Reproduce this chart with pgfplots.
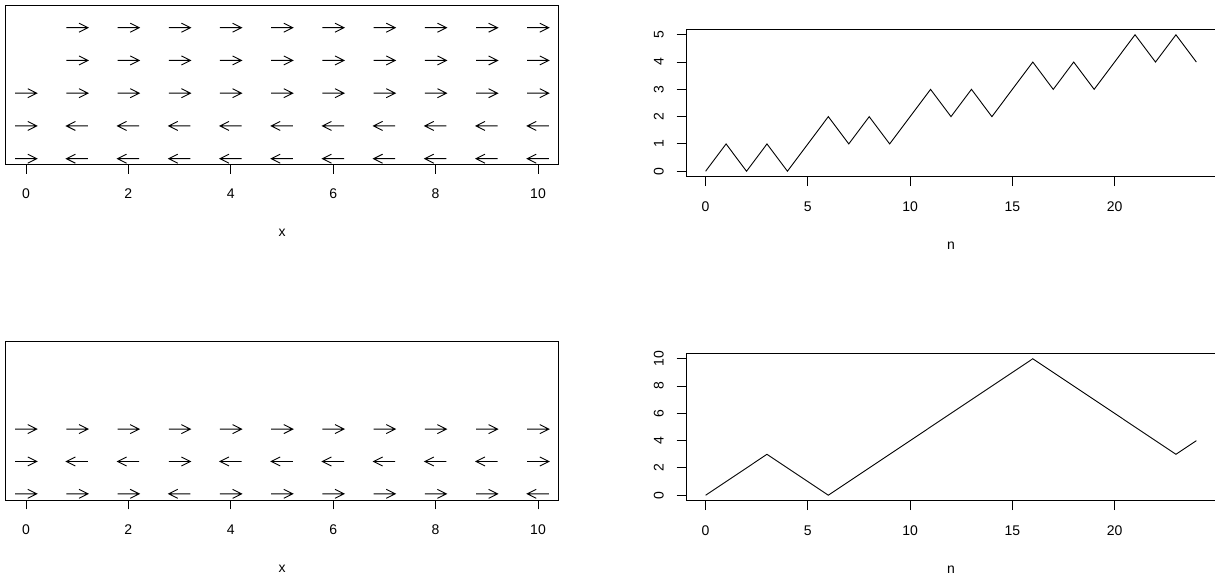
\documentclass[border=0pt]{standalone}
\usepackage{pgfplots}
\pgfplotsset{compat=1.18}
\usepackage{fontspec}
\setmainfont{Liberation Sans}

% arrow glyphs as plot marks (1pt = 1px of the reference)
\pgfdeclareplotmark{rarr}{%
  \pgfpathmoveto{\pgfqpoint{-10.8pt}{0pt}}\pgfpathlineto{\pgfqpoint{10.8pt}{0pt}}%
  \pgfpathmoveto{\pgfqpoint{1.8pt}{4.5pt}}\pgfpathlineto{\pgfqpoint{10.8pt}{0pt}}%
  \pgfpathlineto{\pgfqpoint{1.8pt}{-4.5pt}}%
  \pgfusepathqstroke}
\pgfdeclareplotmark{larr}{%
  \pgfpathmoveto{\pgfqpoint{10.8pt}{0pt}}\pgfpathlineto{\pgfqpoint{-10.8pt}{0pt}}%
  \pgfpathmoveto{\pgfqpoint{-1.8pt}{4.5pt}}\pgfpathlineto{\pgfqpoint{-10.8pt}{0pt}}%
  \pgfpathlineto{\pgfqpoint{-1.8pt}{-4.5pt}}%
  \pgfusepathqstroke}

\pgfplotsset{
  rbase/.style={
    scale only axis, anchor=south west,
    axis line style={line width=0.9pt, black},
    tick style={line width=0.9pt, black},
    tick align=outside, major tick length=9.5pt,
    xtick pos=bottom, ytick pos=left,
    tick label style={font=\fontsize{14}{17}\selectfont},
    /pgf/number format/assume math mode=true,
    xticklabel style={anchor=base}, xticklabel shift=25pt,
    yticklabel style={rotate=90, anchor=base}, yticklabel shift=13pt,
    every axis x label/.style={at={(rel axis cs:0.5,0)}, anchor=base,
      yshift=-72.5pt, font=\fontsize{14}{17}\selectfont},
  },
  arrows/.style={rbase, width=553pt, xmin=-0.4, xmax=10.4,
    xtick={0,2,...,10}, ytick=\empty, xlabel={x}, clip=false},
  walk/.style={rbase, width=530pt, height=147.4pt, xmin=-0.96, xmax=24.96,
    xtick={0,5,...,20}, xlabel={n}},
}

\begin{document}
\begin{tikzpicture}[x=1pt,y=1pt]
\useasboundingbox (0,0) rectangle (1215,580);

% top left
\begin{axis}[arrows, at={(5.5pt,415.7pt)}, height=159pt, ymin=0.829, ymax=5.684]
\addplot[only marks, mark=rarr, mark options={line width=0.9pt}] coordinates {
  (1,5) (2,5) (3,5) (4,5) (5,5) (6,5) (7,5) (8,5) (9,5) (10,5)
  (1,4) (2,4) (3,4) (4,4) (5,4) (6,4) (7,4) (8,4) (9,4) (10,4)
  (0,3) (1,3) (2,3) (3,3) (4,3) (5,3) (6,3) (7,3) (8,3) (9,3) (10,3)
  (0,2) (0,1)};
\addplot[only marks, mark=larr, mark options={line width=0.9pt}] coordinates {
  (1,2) (2,2) (3,2) (4,2) (5,2) (6,2) (7,2) (8,2) (9,2) (10,2)
  (1,1) (2,1) (3,1) (4,1) (5,1) (6,1) (7,1) (8,1) (9,1) (10,1)};
\end{axis}

% bottom left
\begin{axis}[arrows, at={(5.5pt,80pt)}, height=158.3pt, ymin=0.81, ymax=5.70]
\addplot[only marks, mark=rarr, mark options={line width=0.9pt}] coordinates {
  (0,3) (1,3) (2,3) (3,3) (4,3) (5,3) (6,3) (7,3) (8,3) (9,3) (10,3)
  (0,2) (3,2) (10,2)
  (0,1) (1,1) (2,1) (4,1) (5,1) (6,1) (7,1) (8,1) (9,1)};
\addplot[only marks, mark=larr, mark options={line width=0.9pt}] coordinates {
  (1,2) (2,2) (4,2) (5,2) (6,2) (7,2) (8,2) (9,2)
  (3,1) (10,1)};
\end{axis}

% top right
\begin{axis}[walk, at={(686pt,403.3pt)}, ymin=-0.2, ymax=5.2, ytick={0,...,5}]
\addplot[black, line width=0.9pt] coordinates {
  (0,0) (1,1) (2,0) (3,1) (4,0) (5,1) (6,2) (7,1) (8,2) (9,1) (10,2) (11,3)
  (12,2) (13,3) (14,2) (15,3) (16,4) (17,3) (18,4) (19,3) (20,4) (21,5)
  (22,4) (23,5) (24,4)};
\end{axis}

% bottom right
\begin{axis}[walk, at={(686pt,79.3pt)}, ymin=-0.4, ymax=10.4, ytick={0,2,...,10}]
\addplot[black, line width=0.9pt] coordinates {
  (0,0) (1,1) (2,2) (3,3) (4,2) (5,1) (6,0) (7,1) (8,2) (9,3) (10,4) (11,5)
  (12,6) (13,7) (14,8) (15,9) (16,10) (17,9) (18,8) (19,7) (20,6) (21,5)
  (22,4) (23,3) (24,4)};
\end{axis}
\end{tikzpicture}
\end{document}
